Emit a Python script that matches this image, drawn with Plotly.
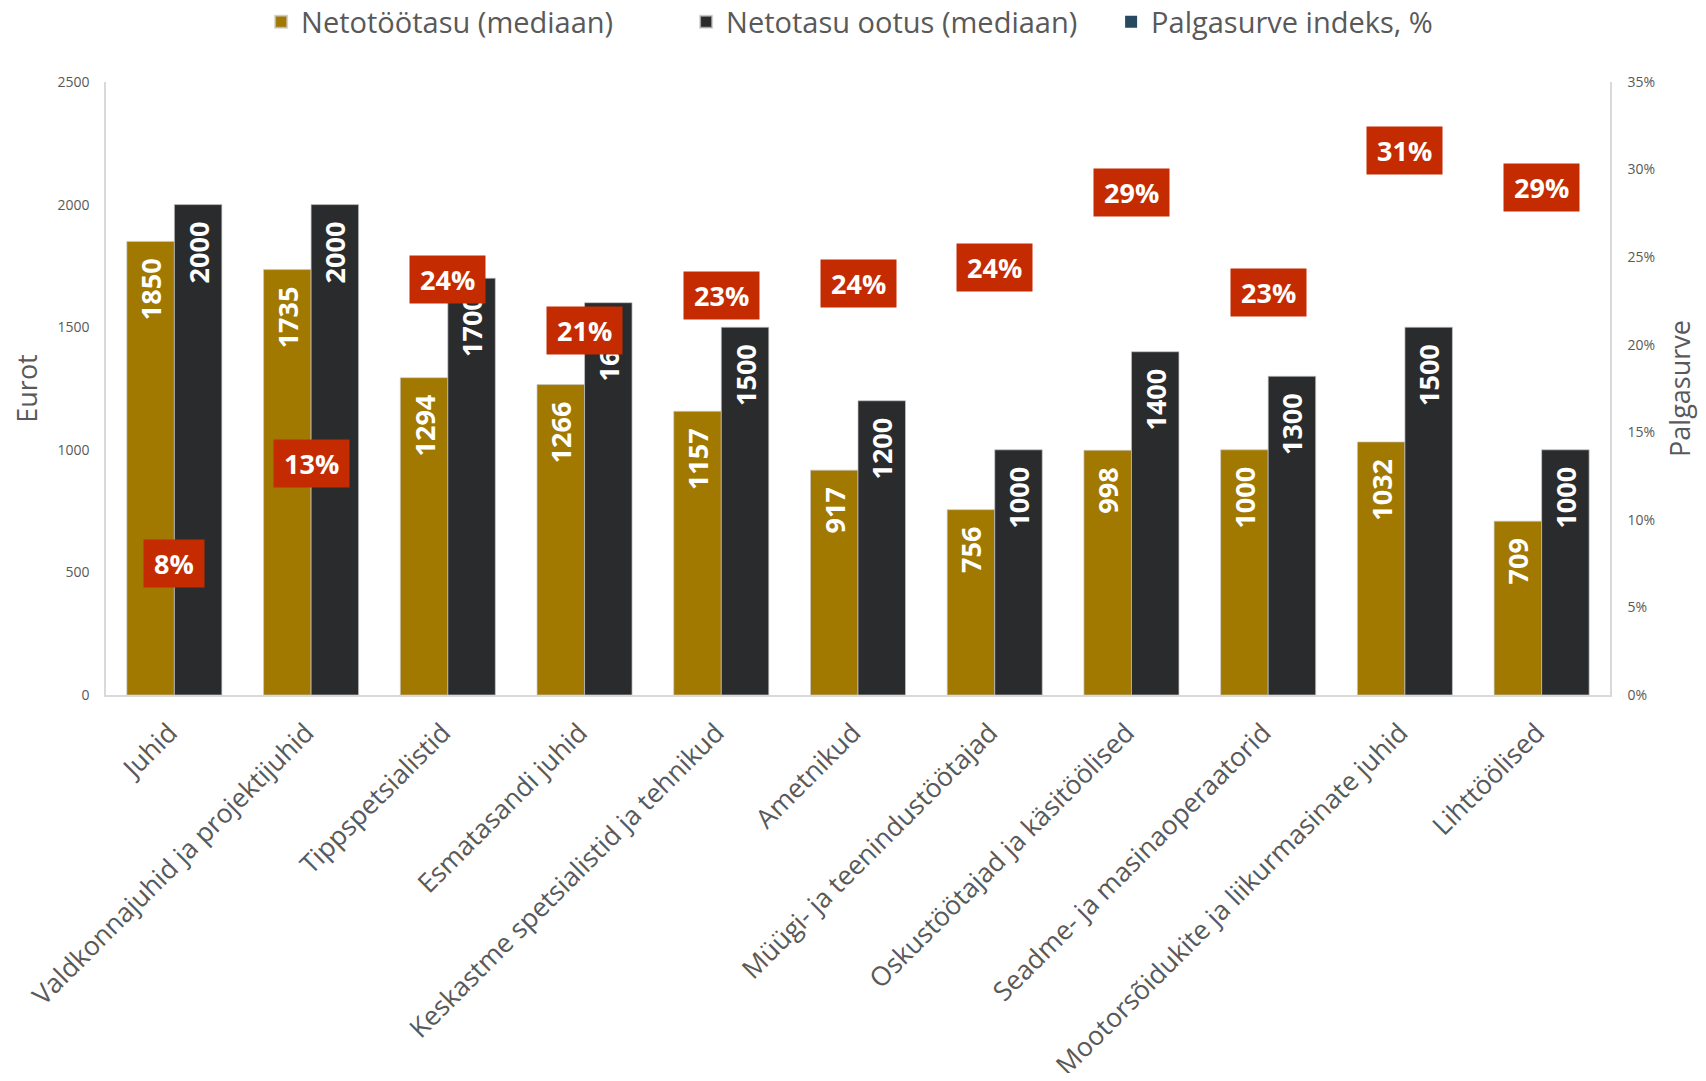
import plotly.graph_objects as go

categories = [
    "Juhid",
    "Valdkonnajuhid ja projektijuhid",
    "Tippspetsialistid",
    "Esmatasandi juhid",
    "Keskastme spetsialistid ja tehnikud",
    "Ametnikud",
    "Müügi- ja teenindustöötajad",
    "Oskustöötajad ja käsitöölised",
    "Seadme- ja masinaoperaatorid",
    "Mootorsõidukite ja liikurmasinate juhid",
    "Lihttöölised",
]
netotootasu = [1850, 1735, 1294, 1266, 1157, 917, 756, 998, 1000, 1032, 709]
ootus = [2000, 2000, 1700, 1600, 1500, 1200, 1000, 1400, 1300, 1500, 1000]
palgasurve = [7.5, 13.2, 23.7, 20.8, 22.8, 23.5, 24.4, 28.7, 23.0, 31.1, 29.0]

names = ["Netotöötasu (mediaan)", "Netotasu ootus (mediaan)", "Palgasurve indeks, %"]

GOLD = "#A17800"
DARK = "#2A2B2D"
RED = "#C42B00"
NAVY = "#264A60"
GREY = "#595959"
FONT = "Open Sans"
NB = "\u00a0"

fig = go.Figure()
fig.add_trace(go.Bar(
    x=categories, y=netotootasu, name=names[0],
    marker=dict(color=GOLD, line=dict(color="rgba(200,200,200,0.7)", width=1)),
    text=[f"{v}{NB}{NB}" for v in netotootasu],
    textposition="inside", insidetextanchor="end", textangle=-90,
    textfont=dict(family=FONT, size=27, color="white", weight="bold"),
    constraintext="none", cliponaxis=False,
))
fig.add_trace(go.Bar(
    x=categories, y=ootus, name=names[1],
    marker=dict(color=DARK, line=dict(color="rgba(200,200,200,0.7)", width=1)),
    text=[f"{v}{NB}{NB}" for v in ootus],
    textposition="inside", insidetextanchor="end", textangle=-90,
    textfont=dict(family=FONT, size=27, color="white", weight="bold"),
    constraintext="none", cliponaxis=False,
))
fig.add_trace(go.Scatter(
    x=categories, y=palgasurve, name=names[2], yaxis="y2",
    mode="markers", marker=dict(symbol="square", size=0.1, color=NAVY),
    hoverinfo="skip",
))

for c, v in zip(categories, palgasurve):
    fig.add_annotation(
        x=c, y=v, xref="x", yref="y2",
        text=f"<b>{NB}{round(v)}%{NB}</b>",
        showarrow=False, bgcolor=RED, borderpad=3, height=41,
        font=dict(family=FONT, size=27, color="white"),
        xanchor="center", yanchor="middle", valign="middle",
    )

fig.update_layout(
    width=1690, height=1065,
    margin=dict(l=98, r=88, t=74, b=378),
    paper_bgcolor="white", plot_bgcolor="white",
    font=dict(family=FONT, color=GREY),
    barmode="group", bargap=0.305, bargroupgap=0,
    showlegend=True,
    legend=dict(
        orientation="h", x=0.527, xanchor="center", y=0.987, yanchor="middle",
        yref="container", font=dict(family=FONT, size=29, color=GREY),
        itemsizing="constant", traceorder="normal",
        entrywidth=380, entrywidthmode="pixels",
        bgcolor="rgba(0,0,0,0)",
    ),
    xaxis=dict(
        range=[-0.5, 10.5],
        showgrid=False, showline=True, linecolor="#D9D9D9", linewidth=1.5,
        ticks="", tickangle=-45, tickfont=dict(family=FONT, size=26.5, color=GREY),
        tickvals=categories, ticktext=[c + NB for c in categories],
        ticklabelstandoff=5, automargin=False,
    ),
    yaxis=dict(
        range=[0, 2500], dtick=500, showgrid=False, zeroline=False,
        showline=True, linecolor="#D9D9D9", linewidth=1.5, ticks="",
        tickfont=dict(family=FONT, size=14, color=GREY), ticklabelstandoff=12,
        title=dict(text="Eurot", font=dict(family=FONT, size=27, color=GREY), standoff=15),
        automargin=False,
    ),
    yaxis2=dict(
        range=[0, 35], dtick=5, ticksuffix="%", overlaying="y", side="right",
        showgrid=False, zeroline=False, showline=True, linecolor="#D9D9D9",
        linewidth=1.5, ticks="", tickfont=dict(family=FONT, size=14, color=GREY),
        ticklabelstandoff=13,
        title=dict(text="Palgasurve", font=dict(family=FONT, size=27, color=GREY), standoff=29),
        automargin=False,
    ),
)

fig.write_html("out.html")
